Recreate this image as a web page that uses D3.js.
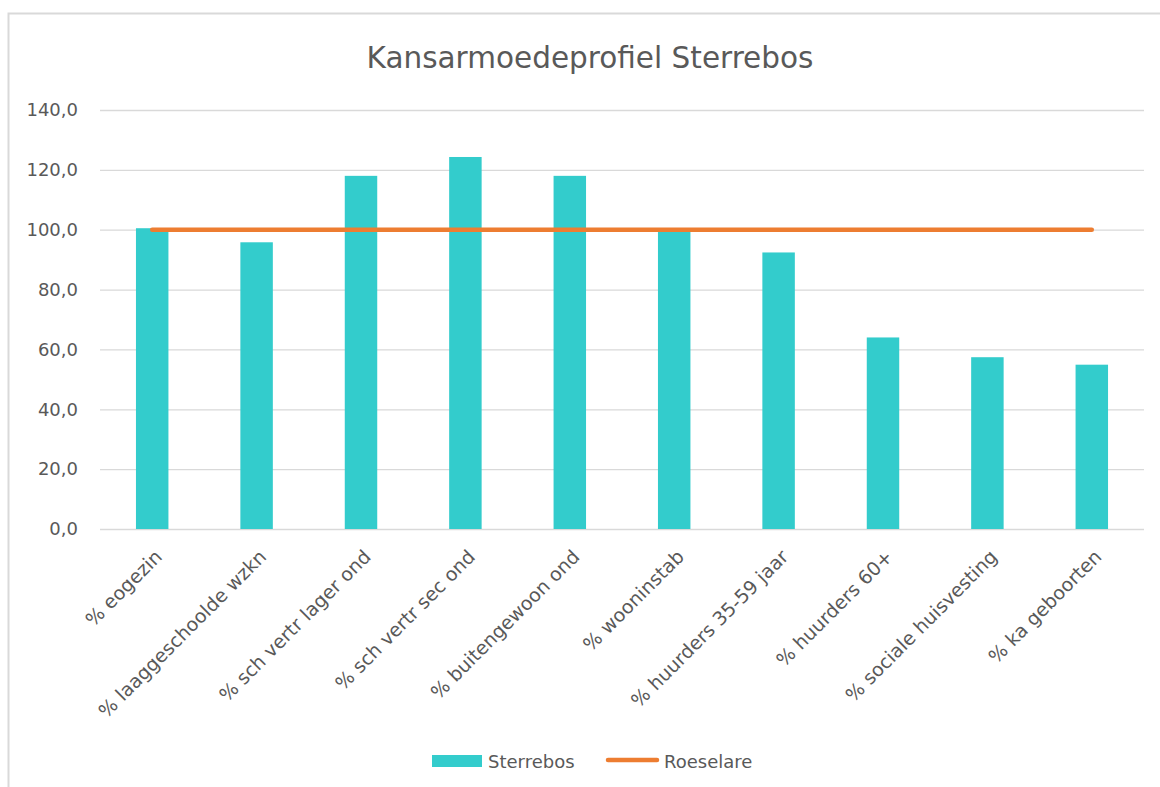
<!DOCTYPE html>
<html>
<head>
<meta charset="utf-8">
<script src="https://cdn.jsdelivr.net/npm/d3@7.9.0/dist/d3.min.js"></script>
<style>
  html, body { margin: 0; padding: 0; background: #fff; }
  svg { display: block; font-family: 'DejaVu Sans', sans-serif; }
</style>
</head>
<body>
<div id="chart"></div>
<script>
const categories = [
  '% eogezin',
  '% laaggeschoolde wzkn',
  '% sch vertr lager ond',
  '% sch vertr sec ond',
  '% buitengewoon ond',
  '% wooninstab',
  '% huurders 35-59 jaar',
  '% huurders 60+',
  '% sociale huisvesting',
  '% ka geboorten',
];
const sterrebos = [100.5, 95.8, 118.0, 124.3, 118.0, 99.4, 92.4, 64.0, 57.4, 54.9];
const roeselare = [100, 100, 100, 100, 100, 100, 100, 100, 100, 100];
const yTicks = [0, 20, 40, 60, 80, 100, 120, 140];

const width = 1160;
const height = 787;
const plot = { left: 100, right: 1144, top: 110, bottom: 529 };
const textColor = '#595959';

const svg = d3
  .select('#chart')
  .append('svg')
  .attr('width', width)
  .attr('height', height);

svg.append('rect').attr('width', width).attr('height', height).attr('fill', '#fff');

// chart frame (only top and left edges are visible in the crop)
svg
  .append('path')
  .attr('d', `M8.5,${height} V13.5 H${width}`)
  .attr('fill', 'none')
  .attr('stroke', '#d9d9d9')
  .attr('stroke-width', 2);

svg
  .append('text')
  .attr('x', 590)
  .attr('y', 68)
  .attr('text-anchor', 'middle')
  .attr('font-size', 29.5)
  .attr('fill', textColor)
  .text('Kansarmoedeprofiel Sterrebos');

const x = d3
  .scaleBand()
  .domain(categories)
  .range([plot.left, plot.right])
  .paddingInner(0.689)
  .paddingOuter(0.3445);

const y = d3.scaleLinear().domain([0, 140]).range([plot.bottom, plot.top]);

// gridlines
svg
  .append('g')
  .attr('class', 'gridlines')
  .attr('transform', `translate(${plot.left},0)`)
  .call(d3.axisLeft(y).tickValues(yTicks).tickFormat('').tickSize(-(plot.right - plot.left)))
  .call((g) => g.select('.domain').remove())
  .call((g) => g.selectAll('line').attr('stroke', '#d9d9d9').attr('stroke-width', 1.3));

const fmt = (d) => d3.format('.1f')(d).replace('.', ',');

svg
  .append('g')
  .attr('transform', `translate(${plot.left},0)`)
  .call(d3.axisLeft(y).tickValues(yTicks).tickFormat(fmt).tickSize(0).tickPadding(22))
  .call((g) => g.select('.domain').remove())
  .call((g) =>
    g
      .selectAll('text')
      .attr('font-family', 'DejaVu Sans, sans-serif')
      .attr('font-size', 18)
      .attr('fill', textColor)
  );

// bars
svg
  .append('g')
  .selectAll('rect')
  .data(categories)
  .join('rect')
  .attr('x', (d) => x(d))
  .attr('y', (d, i) => y(sterrebos[i]))
  .attr('width', x.bandwidth())
  .attr('height', (d, i) => y(0) - y(sterrebos[i]))
  .attr('fill', '#33cccc');

// reference line
const line = d3
  .line()
  .x((d, i) => x(categories[i]) + x.bandwidth() / 2)
  .y((d) => y(d));

svg
  .append('path')
  .datum(roeselare)
  .attr('d', line)
  .attr('fill', 'none')
  .attr('stroke', '#ed7d31')
  .attr('stroke-width', 4.5)
  .attr('stroke-linecap', 'round');

// category labels
svg
  .append('g')
  .attr('transform', `translate(0,${plot.bottom})`)
  .call(d3.axisBottom(x).tickSize(0).tickPadding(0))
  .call((g) => g.select('.domain').remove())
  .call((g) =>
    g
      .selectAll('text')
      .attr('font-family', 'DejaVu Sans, sans-serif')
      .attr('font-size', 19)
      .attr('fill', textColor)
      .attr('text-anchor', 'end')
      .attr('dy', 0)
      .attr('transform', 'translate(11,29) rotate(-45)')
  );

// legend
const legend = svg.append('g').attr('font-size', 18).attr('fill', textColor);
legend.append('rect').attr('x', 432).attr('y', 755).attr('width', 50).attr('height', 12).attr('fill', '#33cccc');
legend.append('text').attr('x', 488).attr('y', 768).text('Sterrebos');
legend
  .append('line')
  .attr('x1', 608)
  .attr('x2', 657)
  .attr('y1', 760)
  .attr('y2', 760)
  .attr('stroke', '#ed7d31')
  .attr('stroke-width', 4.5)
  .attr('stroke-linecap', 'round');
legend.append('text').attr('x', 664).attr('y', 768).text('Roeselare');
</script>
</body>
</html>
